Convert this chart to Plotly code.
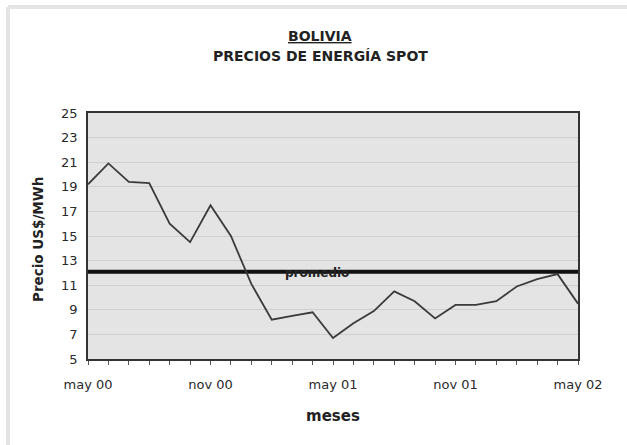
import plotly.graph_objects as go

# Monthly spot energy prices, May 2000 - May 2002 (US$/MWh)
meses = ["may 00", "jun 00", "jul 00", "ago 00", "sep 00", "oct 00",
         "nov 00", "dic 00", "ene 01", "feb 01", "mar 01", "abr 01",
         "may 01", "jun 01", "jul 01", "ago 01", "sep 01", "oct 01",
         "nov 01", "dic 01", "ene 02", "feb 02", "mar 02", "abr 02",
         "may 02"]
precio = [19.2, 20.9, 19.4, 19.3, 16.0, 14.5, 17.5, 15.0, 11.1, 8.2,
          8.5, 8.8, 6.7, 7.9, 8.9, 10.5, 9.7, 8.3, 9.4, 9.4,
          9.7, 10.9, 11.5, 11.9, 9.5]
promedio = 12.1
etiquetas_x = ["may 00", "nov 00", "may 01", "nov 01", "may 02"]
y_ticks = [5, 7, 9, 11, 13, 15, 17, 19, 21, 23, 25]

idx = list(range(len(meses)))
tick_text = [m if m in etiquetas_x else "" for m in meses]

FONT = "DejaVu Sans"
TXT = "#2a2a2a"

fig = go.Figure()
fig.add_trace(go.Scatter(
    x=[idx[0], idx[-1]], y=[promedio, promedio], mode="lines",
    line=dict(color="#111111", width=4), hoverinfo="skip", showlegend=False))
fig.add_trace(go.Scatter(
    x=idx, y=precio, mode="lines",
    line=dict(color="#3a3a3a", width=1.8), showlegend=False))

fig.add_annotation(x=11.2, y=promedio, text="<b>promedio</b>", showarrow=False,
                   font=dict(family=FONT, size=12, color="#222222"), yshift=-1)


def px_x(px):
    return (px - 88) / 490


def px_y(py):
    return (359 - py) / 246


# titles
for text, cx, cy, size, angle in [
    ("<b><u>BOLIVIA</u></b>", 320, 36, 14, 0),
    ("<b>PRECIOS DE ENERGÍA SPOT</b>", 320, 56, 14, 0),
    ("<b>meses</b>", 333, 416, 15, 0),
    ("<b>Precio US$/MWh</b>", 38, 240, 13.5, -90),
]:
    fig.add_annotation(xref="paper", yref="paper", x=px_x(cx), y=px_y(cy),
                       xanchor="center", yanchor="middle", text=text,
                       showarrow=False, textangle=angle,
                       font=dict(family=FONT, size=size, color="#222222"))

fig.update_layout(
    width=627, height=445,
    margin=dict(l=88, r=49, t=113, b=86),
    paper_bgcolor="white", plot_bgcolor="#e4e4e4",
    xaxis=dict(range=[0, 24], tickmode="array", tickvals=idx, ticktext=tick_text,
               ticks="outside", ticklen=4, tickcolor="#555555", showgrid=False,
               showline=True, linecolor="#333333", linewidth=1.5, mirror=True,
               tickfont=dict(size=13, family=FONT, color=TXT), zeroline=False,
               ticklabelstandoff=9),
    yaxis=dict(range=[5, 25], tickmode="array", tickvals=y_ticks,
               showgrid=True, gridcolor="#cfcfcf", gridwidth=1,
               showline=True, linecolor="#333333", linewidth=1.5, mirror=True,
               ticks="", tickfont=dict(size=13, family=FONT, color=TXT), zeroline=False,
               ticklabelstandoff=6),
)

# light frame around the chart area
fig.add_shape(type="line", xref="paper", yref="paper", x0=px_x(8), x1=px_x(640),
              y0=px_y(7), y1=px_y(7), line=dict(color="#e4e4e4", width=4))
fig.add_shape(type="line", xref="paper", yref="paper", x0=px_x(8), x1=px_x(8),
              y0=px_y(7), y1=px_y(460), line=dict(color="#e4e4e4", width=4))

fig.write_html("out.html")
